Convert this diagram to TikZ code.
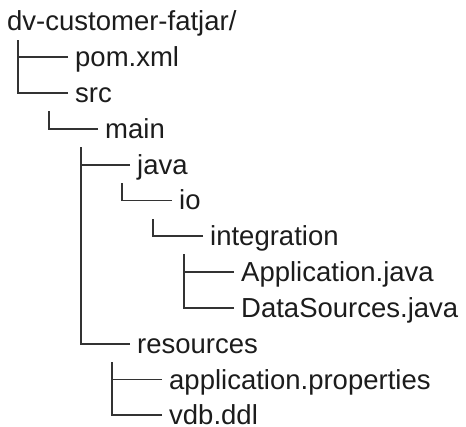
\documentclass[tikz,border=0pt]{standalone}
\usepackage{fontspec}
\setmainfont{Liberation Sans}
\usepackage{tikz}
\definecolor{treec}{HTML}{333333}
\definecolor{textc}{HTML}{1C1C1C}

\begin{document}
\begin{tikzpicture}[x=1pt,y=-35.8pt,
      entry/.style={anchor=west,inner xsep=7pt,inner ysep=0pt,text height=19pt,text depth=0pt,
        text=textc,font=\fontsize{27.5}{33}\selectfont},
      branch/.style={draw=treec,line width=1.9pt}]
    \useasboundingbox (0,-0.6006) rectangle (466,11.299);
    % entries, one per row
    \node[entry] (root) at (0,0) {dv-customer-fatjar/};
    \node[entry] (pom) at (68,1) {pom.xml};
    \node[entry] (src) at (68,2) {src};
    \node[entry] (main) at (98,3) {main};
    \node[entry] (java) at (130,4) {java};
    \node[entry] (io) at (172,5) {io};
    \node[entry] (integ) at (203,6) {integration};
    \node[entry] (app) at (234,7) {Application.java};
    \node[entry] (ds) at (234,8) {DataSources.java};
    \node[entry] (res) at (130,9) {resources};
    \node[entry] (props) at (162,10) {application.properties};
    \node[entry] (vdb) at (162,11) {vdb.ddl};
    % tree lines
    \draw[branch] (pom.west) -| ([xshift=18pt,yshift=-8.5pt]root.south west);
    \draw[branch] (src.west) -| ([xshift=18pt,yshift=-8.5pt]root.south west);
    \draw[branch] (main.west) -| ([xshift=-19pt,yshift=-8.5pt]src.south west);
    \draw[branch] (java.west) -| ([xshift=-17pt,yshift=-8.5pt]main.south west);
    \draw[branch] (res.west) -| ([xshift=-17pt,yshift=-8.5pt]main.south west);
    \draw[branch] (io.west) -| ([xshift=-8pt,yshift=-8.5pt]java.south west);
    \draw[branch] (integ.west) -| ([xshift=-19pt,yshift=-8.5pt]io.south west);
    \draw[branch] (app.west) -| ([xshift=-19pt,yshift=-8.5pt]integ.south west);
    \draw[branch] (ds.west) -| ([xshift=-19pt,yshift=-8.5pt]integ.south west);
    \draw[branch] (props.west) -| ([xshift=-18pt,yshift=-8.5pt]res.south west);
    \draw[branch] (vdb.west) -| ([xshift=-18pt,yshift=-8.5pt]res.south west);
  \end{tikzpicture}
\end{document}
